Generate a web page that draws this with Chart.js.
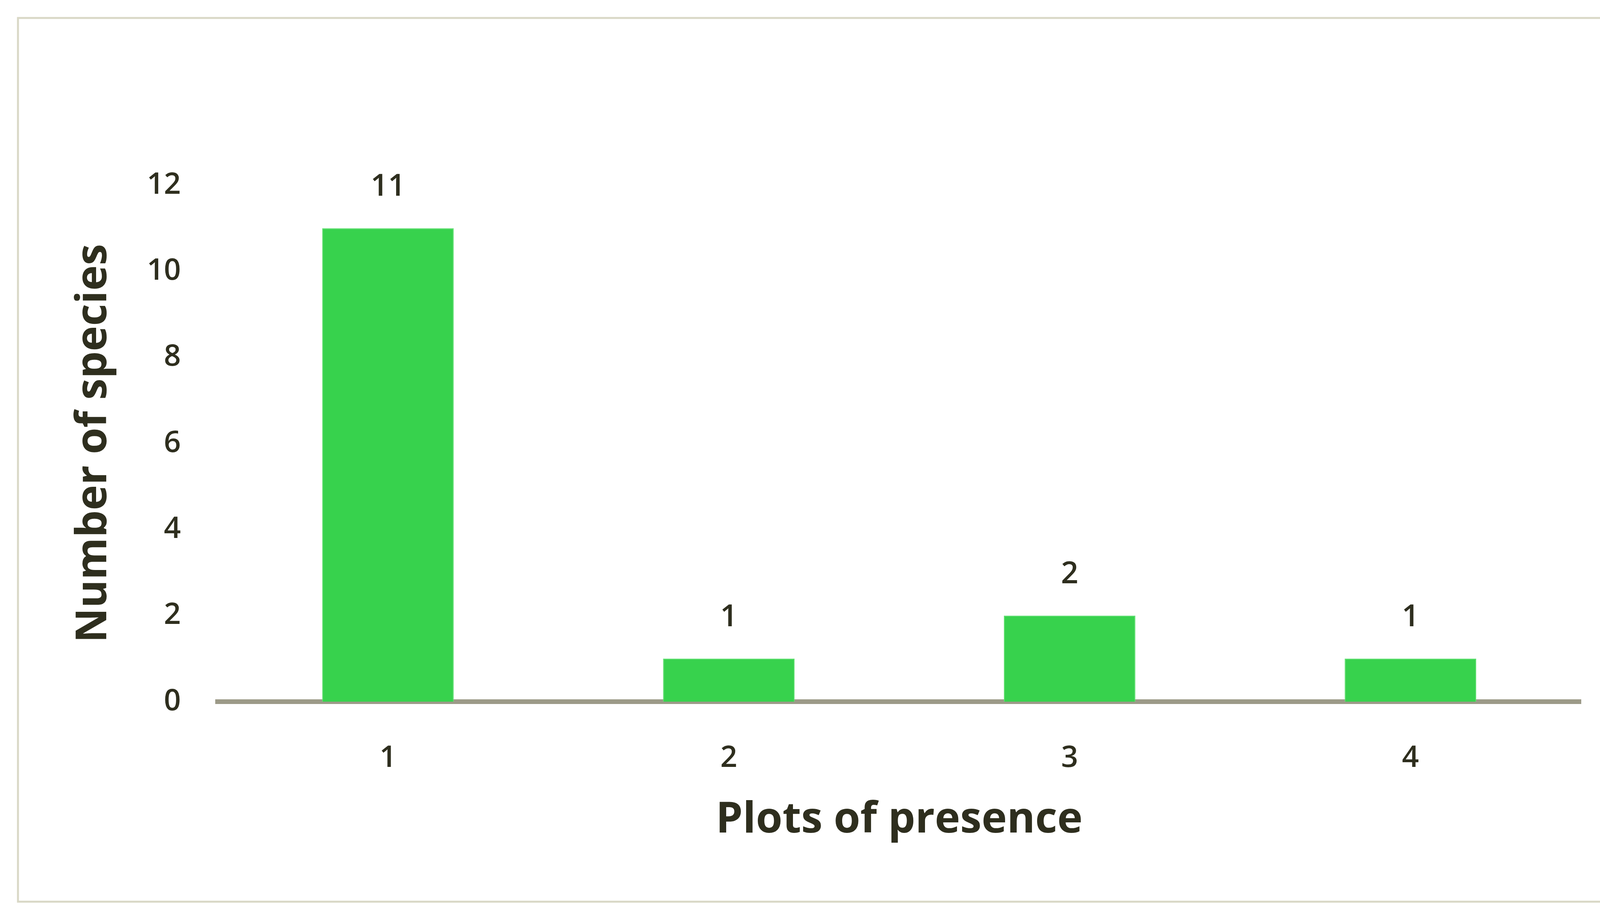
<!DOCTYPE html>
<html>
<head>
<meta charset="utf-8">
<script src="https://cdn.jsdelivr.net/npm/chart.js@4.4.1/dist/chart.umd.min.js"></script>
<style>
  html, body { margin: 0; padding: 0; background: #fff; overflow: hidden; }
  canvas { display: block; width: 100vw; height: 100vh; }
</style>
</head>
<body>
<canvas id="chart" width="4222" height="2360"></canvas>
<script>
const categories = ['1', '2', '3', '4'];
const speciesCounts = [11, 1, 2, 1];
const yTicks = [0, 2, 4, 6, 8, 10, 12];

const textColor = '#2e2e1e';

// outer frame + value labels above each bar
const decorations = {
    id: 'decorations',
    beforeDraw(chart) {
        const ctx = chart.ctx;
        ctx.save();
        ctx.fillStyle = '#fff';
        ctx.fillRect(0, 0, chart.width, chart.height);
        ctx.strokeStyle = '#d9d8c6';
        ctx.lineWidth = 5;
        ctx.strokeRect(46, 46, 4133, 2262);
        ctx.restore();
    },
    afterDatasetsDraw(chart) {
        const ctx = chart.ctx;
        const meta = chart.getDatasetMeta(0);
        ctx.save();
        ctx.fillStyle = textColor;
        ctx.font = '600 78px "Open Sans"';
        ctx.textAlign = 'center';
        ctx.textBaseline = 'middle';
        meta.data.forEach((bar, i) => {
            ctx.fillText(String(speciesCounts[i]), bar.x, bar.y - 105);
        });
        ctx.restore();
    }
};

const ctx = document.getElementById('chart').getContext('2d');
new Chart(ctx, {
    type: 'bar',
    data: {
        labels: categories,
        datasets: [{
            data: speciesCounts,
            backgroundColor: '#37d24d',
            borderColor: '#5fe070',
            borderWidth: 2,
            categoryPercentage: 1,
            barPercentage: 0.386
        }]
    },
    options: {
        responsive: false,
        animation: false,
        devicePixelRatio: 1,
        layout: { padding: { left: 175, right: 175, top: 474, bottom: 190 } },
        plugins: { legend: { display: false }, tooltip: { enabled: false } },
        scales: {
            x: {
                grid: { display: false, drawTicks: false },
                border: { display: true, color: '#9c9a88', width: 12 },
                ticks: { color: textColor, font: { family: 'Open Sans', size: 76, weight: '600' }, padding: 100 },
                title: { display: true, text: 'Plots of presence', color: textColor,
                         font: { family: 'Open Sans', size: 110, weight: 'bold' }, padding: { top: 10 } },
                afterFit(scale) { scale.height = 2360 - 1796 - 190; }
            },
            y: {
                min: 0, max: 12,
                afterBuildTicks(scale) { scale.ticks = yTicks.map(v => ({ value: v })); },
                grid: { display: false, drawTicks: false },
                border: { display: false },
                ticks: { color: textColor, font: { family: 'Open Sans', size: 76, weight: '600' }, padding: 94 },
                title: { display: true, text: 'Number of species', color: textColor,
                         font: { family: 'Open Sans', size: 110, weight: 'bold' }, padding: 0 },
                afterFit(scale) { scale.width = 557 - 175; }
            }
        }
    },
    plugins: [decorations]
});
</script>
</body>
</html>
